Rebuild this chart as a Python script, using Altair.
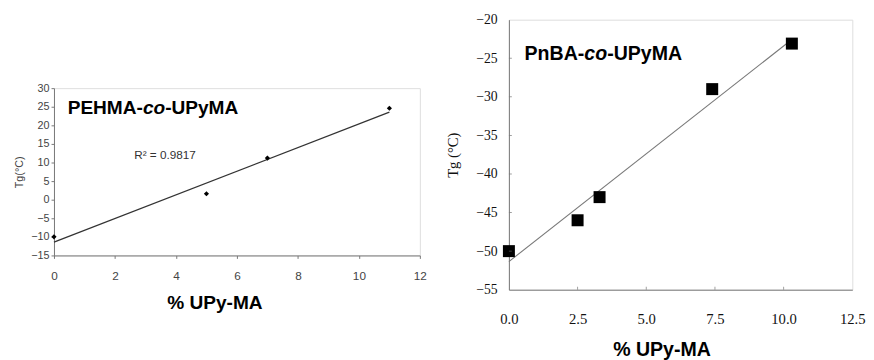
import altair as alt
import pandas as pd

# ---- data ----
left_x = [0, 5, 7, 11]
left_y = [-10, 1.6, 11.2, 24.6]
left_r2 = "R\u00b2 = 0.9817"

right_x = [0.0, 2.5, 3.3, 7.4, 10.3]
right_y = [-50, -46, -43, -29, -23.1]

left_xticks = [0, 2, 4, 6, 8, 10, 12]
left_yticks = [-15, -10, -5, 0, 5, 10, 15, 20, 25, 30]
right_xticks = [0, 2.5, 5, 7.5, 10, 12.5]
right_yticks = [-55, -50, -45, -40, -35, -30, -25, -20]
right_inner_x = [2.5, 5, 7.5, 10]
right_inner_y = [-50, -45, -40, -35, -30, -25]

SANS = "Liberation Sans"
SERIF = "Liberation Serif"

ldf = pd.DataFrame({"x": left_x, "y": left_y})
rdf = pd.DataFrame({"x": right_x, "y": right_y})

LW, LH = 374, 171
RW, RH = 351, 276

# ---------- left panel ----------
lx = alt.X("x:Q", scale=alt.Scale(domain=[0, 12], nice=False, zero=False),
           axis=alt.Axis(values=left_xticks, title="% UPy-MA", grid=False,
                         labelFlush=False, labelOverlap=False,
                         labelFont=SANS, labelFontSize=12, labelColor="#444",
                         labelPadding=13, tickSize=3, tickColor="#777",
                         domainColor="#777", titleFont=SANS, titleFontSize=19.5,
                         titleFontWeight="bold", titleColor="#000",
                         titleX=164, titleY=48, titleBaseline="middle"))
ly = alt.Y("y:Q", scale=alt.Scale(domain=[-15, 30], nice=False, zero=False),
           axis=alt.Axis(values=left_yticks, title="Tg(\u00b0C)", grid=False,
                         labelFlush=False, labelOverlap=False,
                         labelFont=SANS, labelFontSize=11, labelColor="#444",
                         labelPadding=2, tickSize=3, tickColor="#777",
                         domainColor="#777", titleFont=SANS, titleFontSize=11,
                         titleFontWeight="normal", titleColor="#444",
                         titlePadding=7))

lbase = alt.Chart(ldf)
lpts = lbase.mark_point(shape="diamond", filled=True, color="#000", size=28,
                        opacity=1).encode(x=lx, y=ly)
lfit = lbase.transform_regression("x", "y", extent=[0, 11]).mark_line(
    color="#333", strokeWidth=1.3).encode(x=lx, y=ly)


def label(parts, x0, y0, size):
    layers = []
    x = x0
    for txt, style, w in parts:
        layers.append(
            alt.Chart(pd.DataFrame({"t": [txt]})).mark_text(
                align="left", baseline="middle", font=SANS, fontSize=size,
                fontWeight="bold", fontStyle=style, color="#000"
            ).encode(x=alt.value(x), y=alt.value(y0), text="t:N"))
        x += w * size
    return layers


llab = label([("PEHMA-", "normal", 3.944), ("co", "italic", 1.167),
              ("-UPyMA", "normal", 3.833)], 14, 20, 19.5)
lr2 = alt.Chart(pd.DataFrame({"t": [left_r2]})).mark_text(
    align="left", baseline="middle", font=SANS, fontSize=12, color="#333"
).encode(x=alt.value(82), y=alt.value(68), text="t:N")

left = alt.layer(lfit, lpts, lr2, *llab).properties(width=LW, height=LH)

spacer = alt.Chart(alt.Data(values=[])).mark_point().encode(
    x=alt.value(0), y=alt.value(0)).properties(
    width=LW, height=63, view=alt.ViewBackground(strokeOpacity=0))

# ---------- right panel ----------
rxs = alt.Scale(domain=[0, 12.5], nice=False, zero=False)
rys = alt.Scale(domain=[-55, -20], nice=False, zero=False)
rxa = alt.Axis(values=right_xticks, format=".1f", title="% UPy-MA",
               grid=False, ticks=False, labelFlush=False,
               labelOverlap=False, labelFont=SERIF,
               labelFontSize=15, labelColor="#111", labelPadding=23,
               domainColor="#777", titleFont=SANS, titleFontSize=20,
               titleFontWeight="bold", titleColor="#000",
               titleX=156, titleY=61, titleBaseline="middle")
rya = alt.Axis(values=right_yticks, format="d", title="Tg (\u00b0C)",
               grid=False, ticks=False, labelFlush=False,
               labelOverlap=False, labelFont=SERIF,
               labelFontSize=14, labelColor="#111", labelPadding=12,
               domainColor="#777", titleFont=SERIF, titleFontSize=15,
               titleFontWeight="normal", titleColor="#111",
               titlePadding=16)
rx = alt.X("x:Q", scale=rxs, axis=rxa)
ry = alt.Y("y:Q", scale=rys, axis=rya)

rbase = alt.Chart(rdf)
rfit = rbase.transform_regression("x", "y", extent=[0, 10.3]).mark_line(
    color="#777", strokeWidth=1.1).encode(x=rx, y=ry)
rpts = rbase.mark_point(shape="square", filled=True, color="#000", size=150,
                        opacity=1).encode(x=rx, y=ry)
rtx = alt.Chart(pd.DataFrame({"x": right_inner_x})).mark_tick(
    orient="vertical", size=6, thickness=1, color="#777", clip=True
).encode(x=rx, y=alt.YDatum(-55, scale=rys, axis=rya))
rty = alt.Chart(pd.DataFrame({"y": right_inner_y})).mark_tick(
    orient="horizontal", size=6, thickness=1, color="#777", clip=True
).encode(y=ry, x=alt.XDatum(0, scale=rxs, axis=rxa))
rlab = label([("PnBA-", "normal", 3.055), ("co", "italic", 1.167),
              ("-UPyMA", "normal", 3.833)], 16, 35, 20)

right = alt.layer(rfit, rpts, rtx, rty, *rlab).properties(width=RW, height=RH)

chart = alt.hconcat(alt.vconcat(spacer, left, spacing=0), right, spacing=17
                    ).properties(
    padding={"left": 4, "top": 0, "right": 0, "bottom": 0}
).configure_view(stroke="#8c8c8c", strokeWidth=1
).configure(background="white")

chart.save("out.html", embed_options={"renderer": "svg", "actions": False})
